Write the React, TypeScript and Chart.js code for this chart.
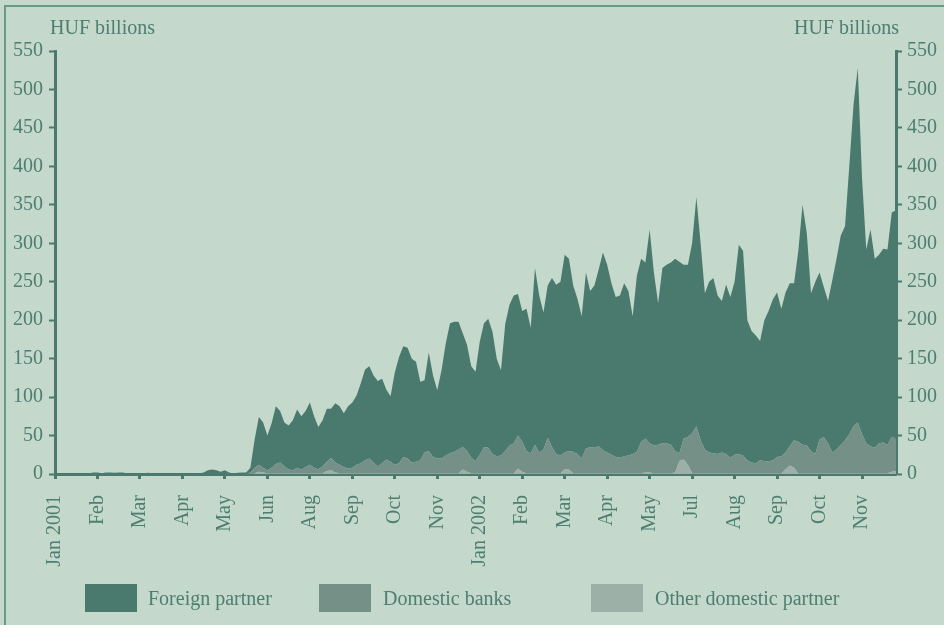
import React, { useEffect, useRef } from 'react';
import { Chart, registerables } from 'chart.js';

Chart.register(...registerables);

// Month tick labels, one every 10 observations
const tickLabels = [
  'Jan 2001', 'Feb', 'Mar', 'Apr', 'May', 'Jun', 'Aug', 'Sep', 'Oct', 'Nov',
  'Jan 2002', 'Feb', 'Mar', 'Apr', 'May', 'Jul', 'Aug', 'Sep', 'Oct', 'Nov',
];
const TICK_EVERY = 10;

const yTicks = { min: 0, max: 550, step: 50 };

// HUF billions (stack order: other domestic at bottom, then domestic banks, then foreign partner)
const foreignPartner = [
  0, 0, 0, 0, 0, 0, 0, 0, 1, 2,
  2, 1, 2, 2, 1.5, 2, 2, 0.5, 0, 0,
  0, 1, 1.5, 0.5, 0, 0, 0, 0, 0, 0,
  0, 0, 0, 0.5, 1, 2, 5, 6, 5, 3,
  5, 2, 0.5, 1.5, 2, 2, 6, 37, 62, 59,
  45, 58, 75, 67, 57, 57, 65, 76, 69, 73,
  81, 67, 55, 60, 69, 64, 77, 76, 70, 81,
  85, 90, 104, 118, 120, 113, 111, 110, 91, 85,
  120, 138, 144, 144, 135, 130, 102, 94, 128, 106,
  89, 115, 146, 169, 169, 166, 148, 138, 119, 116,
  147, 161, 168, 159, 127, 111, 165, 183, 192, 184,
  170, 185, 163, 230, 204, 178, 198, 220, 220, 226,
  257, 250, 216, 202, 185, 229, 203, 211, 230, 257,
  244, 223, 208, 211, 225, 214, 179, 229, 238, 229,
  278, 225, 184, 228, 232, 237, 250, 249, 226, 224,
  247, 298, 256, 203, 222, 228, 206, 197, 220, 209,
  225, 272, 266, 182, 171, 166, 155, 183, 196, 209,
  214, 192, 208, 212, 204, 248, 312, 276, 205, 224,
  217, 195, 185, 224, 248, 272, 278, 348, 418, 461,
  333, 252, 282, 246, 245, 252, 254, 292, 297,
];

const domesticBanks = [
  0, 0, 0, 0, 0, 0, 0, 0, 0, 0,
  0, 0, 0, 0, 0, 0, 0, 0, 0, 0,
  0, 0, 0, 0, 0, 0, 0, 0, 0, 0,
  0, 0, 0, 0, 0, 0, 0, 0, 0, 0,
  0, 0, 0, 0, 0, 0, 2, 7, 9, 6,
  4, 7, 12, 14, 9, 5, 4, 7, 5, 8,
  11, 7, 5, 9, 12, 16, 13, 11, 8, 6,
  7, 11, 13, 17, 19, 14, 9, 13, 18, 15,
  11, 13, 21, 19, 14, 15, 17, 27, 29, 21,
  19, 19, 23, 26, 28, 31, 29, 27, 20, 16,
  24, 34, 33, 25, 22, 23, 29, 36, 39, 43,
  39, 29, 26, 37, 27, 31, 46, 34, 25, 23,
  22, 24, 28, 25, 19, 32, 34, 33, 35, 30,
  27, 24, 21, 20, 22, 23, 25, 28, 41, 44,
  38, 36, 37, 39, 39, 37, 28, 10, 27, 36,
  52, 61, 43, 31, 27, 26, 25, 27, 25, 20,
  24, 25, 23, 17, 14, 13, 17, 16, 15, 17,
  21, 22, 22, 25, 36, 41, 37, 36, 29, 25,
  44, 47, 39, 27, 31, 37, 43, 51, 61, 66,
  51, 39, 35, 33, 39, 40, 37, 45, 42,
];

const otherDomestic = [
  0, 0, 0, 0, 0, 0, 0, 0, 0, 0,
  0, 0, 0, 0, 0, 0, 0, 0, 0, 0,
  0, 0, 0, 0, 0, 0, 0, 0, 0, 0,
  0, 0, 0, 0, 0, 0, 0, 0, 0, 0,
  0, 0, 0, 0, 0, 0, 0, 1, 3, 2,
  1, 1, 1, 1, 1, 1, 1, 1, 1, 1,
  1, 1, 1, 1, 4, 5, 2, 1, 1, 1,
  1, 1, 1, 1, 1, 1, 1, 1, 1, 1,
  1, 1, 1, 1, 1, 1, 1, 1, 1, 1,
  1, 1, 1, 1, 1, 1, 6, 3, 1, 1,
  1, 1, 1, 1, 1, 1, 1, 1, 1, 7,
  3, 1, 1, 1, 1, 1, 1, 1, 1, 1,
  6, 6, 1, 1, 1, 1, 1, 1, 1, 1,
  1, 1, 1, 1, 1, 1, 1, 1, 1, 2,
  2, 1, 1, 1, 1, 1, 2, 17, 19, 12,
  1, 1, 1, 1, 1, 1, 1, 1, 1, 1,
  1, 1, 1, 1, 1, 1, 1, 1, 1, 1,
  1, 1, 6, 11, 8, 1, 1, 1, 1, 1,
  1, 1, 1, 1, 1, 1, 1, 1, 1, 1,
  1, 1, 1, 1, 1, 1, 1, 3, 4,
];

const seriesNames = ['Foreign partner', 'Domestic banks', 'Other domestic partner'];

const BG = '#c4d8cc';
const FRAME = '#6a9a88';
const AXIS = '#4a7a6e';
const TEXT = '#4d7f70';
const C_FOREIGN = '#4a796d';
const C_BANKS = '#749087';
const C_OTHER = '#9db0a8';
const FONT = "'Liberation Serif', 'Times New Roman', serif";

const categories = foreignPartner.map((_, i) =>
  i % TICK_EVERY === 0 ? tickLabels[i / TICK_EVERY] ?? '' : ''
);

export default function App() {
  const canvasRef = useRef<HTMLCanvasElement | null>(null);

  useEffect(() => {
    if (!canvasRef.current) return;
    Chart.defaults.font.family = FONT;
    Chart.defaults.font.size = 20;
    const tickColorFn = (c: any) => (c.index % TICK_EVERY === 0 ? AXIS : 'rgba(0,0,0,0)');
    const yAxis = (position: 'left' | 'right', width: number, pad: number, stacked: boolean) => ({
      type: 'linear' as const,
      position,
      stacked,
      min: yTicks.min,
      max: yTicks.max,
      z: 1,
      ticks: { stepSize: yTicks.step, padding: pad, color: TEXT, font: { size: 20, family: FONT } },
      grid: { drawOnChartArea: false, drawTicks: true, tickLength: 6, tickWidth: 2, tickColor: AXIS },
      border: { display: true, color: AXIS, width: 3 },
      afterFit: (s: any) => {
        s.width = width;
      },
    });
    const chart = new Chart(canvasRef.current, {
      type: 'line',
      data: {
        labels: categories,
        datasets: [
          {
            label: seriesNames[2],
            data: otherDomestic,
            backgroundColor: C_OTHER,
            borderWidth: 0,
            pointRadius: 0,
            fill: 'origin',
          },
          {
            label: seriesNames[1],
            data: domesticBanks,
            backgroundColor: C_BANKS,
            borderWidth: 0,
            pointRadius: 0,
            fill: '-1',
          },
          {
            label: seriesNames[0],
            data: foreignPartner,
            backgroundColor: C_FOREIGN,
            borderWidth: 0,
            pointRadius: 0,
            fill: '-1',
          },
        ],
      },
      options: {
        animation: false,
        responsive: false,
        maintainAspectRatio: false,
        layout: { padding: { top: 51, left: 0, right: 0, bottom: 0 }, autoPadding: false },
        plugins: { legend: { display: false }, tooltip: { enabled: false } },
        elements: { line: { tension: 0, borderWidth: 0 }, point: { radius: 0 } },
        scales: {
          x: {
            type: 'category',
            offset: false,
            z: 1,
            grid: {
              drawOnChartArea: false,
              drawTicks: true,
              tickLength: 5,
              tickWidth: 3,
              tickColor: tickColorFn,
            },
            border: { display: true, color: AXIS, width: 3 },
            ticks: {
              autoSkip: false,
              maxRotation: 90,
              minRotation: 90,
              padding: 16,
              color: TEXT,
              font: { size: 20, family: FONT },
            },
            afterFit: (s: any) => {
              s.height = 151;
            },
          },
          y: yAxis('left', 55, 6, true),
          y2: yAxis('right', 48, 5, false),
        } as any,
      },
    });
    return () => chart.destroy();
  }, []);

  const legendItems = [
    { name: seriesNames[0], color: C_FOREIGN, x: 85, tx: 148 },
    { name: seriesNames[1], color: C_BANKS, x: 319, tx: 383 },
    { name: seriesNames[2], color: C_OTHER, x: 591, tx: 655 },
  ];

  const textStyle: React.CSSProperties = {
    position: 'absolute',
    fontFamily: FONT,
    fontSize: 20,
    lineHeight: '23px',
    color: TEXT,
    whiteSpace: 'nowrap',
  };

  return (
    <div
      style={{
        position: 'fixed',
        left: 0,
        top: 0,
        width: 944,
        height: 625,
        background: BG,
        overflow: 'hidden',
      }}
    >
      <div
        style={{
          position: 'absolute',
          left: 4,
          top: 5,
          width: 1000,
          height: 800,
          borderLeft: `2px solid ${FRAME}`,
          borderTop: `2px solid ${FRAME}`,
        }}
      />
      <canvas
        ref={canvasRef}
        width={944}
        height={625}
        style={{ position: 'absolute', left: 0, top: 0, width: 944, height: 625 }}
      />
      <div style={{ ...textStyle, left: 50, top: 16 }}>HUF billions</div>
      <div style={{ ...textStyle, right: 45, top: 16, textAlign: 'right' }}>HUF billions</div>
      {legendItems.map((it) => (
        <React.Fragment key={it.name}>
          <div
            style={{
              position: 'absolute',
              left: it.x,
              top: 584,
              width: 52,
              height: 28,
              background: it.color,
            }}
          />
          <div style={{ ...textStyle, left: it.tx, top: 587 }}>{it.name}</div>
        </React.Fragment>
      ))}
    </div>
  );
}
